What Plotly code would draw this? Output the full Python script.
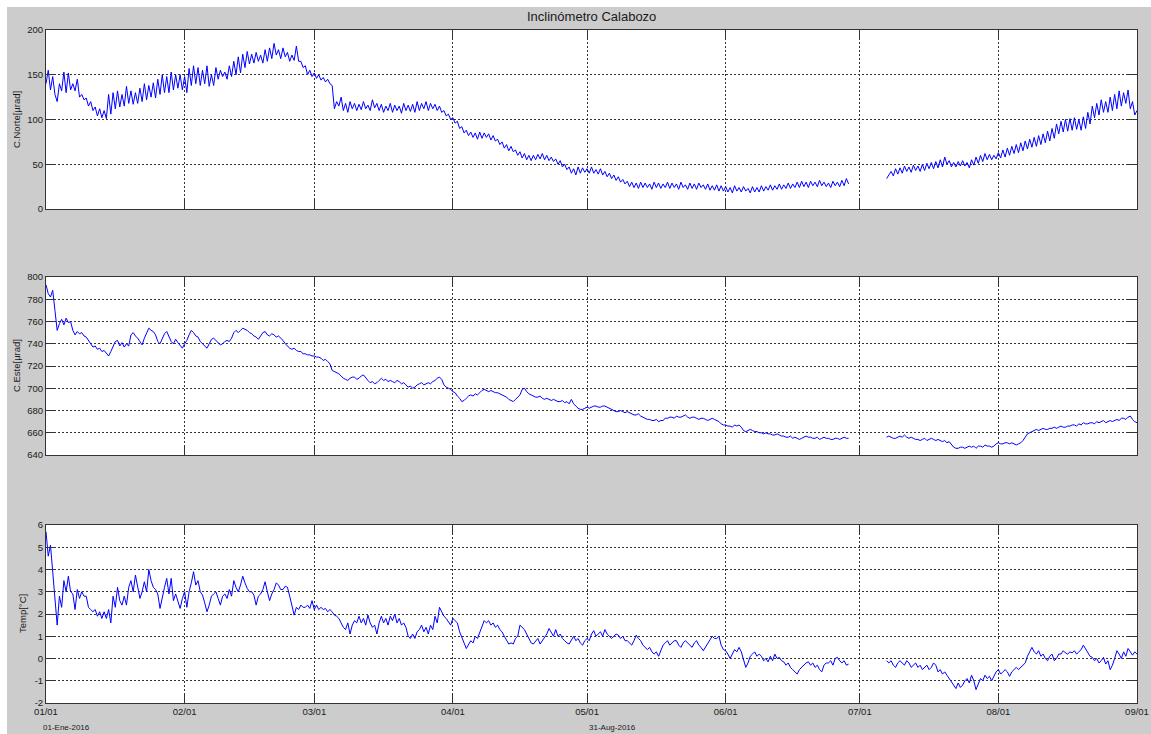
import pandas as pd
import plotly.graph_objects as go
from plotly.subplots import make_subplots

# ---------------- DATA (readings every 12 h) ----------------
start_1 = "2016-01-01 00:00"   # first segment start
start_2 = "2016-07-07 00:00"   # second segment start (after data gap)

norte_1 = [
 140,155, 133,148, 128,120, 140,132, 153,130, 152,133, 140,132, 145,125, 128,122, 124,115,
 120,110, 114,104, 112,102, 110,101, 128,106, 130,112, 132,114, 128,115, 137,118, 132,117,
 130,118, 135,120, 140,122, 138,125, 141,124, 145,128, 150,130, 148,130, 153,133, 150,135,
 150,133, 148,130, 157,138, 160,140, 158,138, 155,140, 160,137, 150,138, 158,145, 155,148,
 153,145, 160,148, 165,150, 170,152, 173,158, 176,162, 173,163, 175,165, 172,163, 178,165,
 180,168, 185,172, 178,168, 180,170, 175,165, 172,166, 182,165, 165,158, 160,150, 155,148,
 152,146, 150,144, 147,142, 145,140, 138,112, 120,115, 125,110, 118,108, 120,112, 118,110,
 117,111, 120,112, 116,110, 122,113, 118,110, 117,108, 115,110, 118,108, 116,110, 115,107,
 118,110, 116,109, 117,108, 120,110, 118,112, 120,110, 118,112, 117,110, 115,108, 110,104,
 106,100, 102,96, 98,90, 92,85, 88,82, 86,80, 85,78, 86,79, 85,80, 84,77,
 82,76, 78,72, 75,68, 72,65, 70,64, 66,60, 64,57, 62,55, 60,54, 60,55,
 61,56, 62,55, 60,54, 58,53, 56,50, 54,47, 50,44, 47,40, 45,38, 47,40,
 46,41, 45,40, 47,40, 44,39, 45,38, 42,36, 40,34, 38,32, 36,30, 33,28,
 31,25, 30,24, 29,23, 30,24, 29,24, 28,22, 30,24, 29,23, 28,24, 30,23,
 29,24, 28,22, 30,24, 27,22, 29,23, 28,22, 29,24, 27,22, 28,21, 26,21,
 27,20, 26,20, 25,19, 24,18, 26,20, 24,19, 25,20, 23,18, 25,19, 24,19,
 26,20, 25,21, 27,21, 26,22, 28,22, 27,23, 29,23, 28,24, 30,24, 31,25,
 30,24, 31,26, 30,25, 32,26, 30,25, 29,24, 31,26, 30,25, 32,26, 34,28,
]
norte_2 = [
 34,38, 42,37, 45,39, 46,40, 48,42, 47,41, 49,43, 48,42, 50,43, 51,45,
 52,45, 53,46, 55,47, 58,50, 54,47, 52,47, 53,48, 54,48, 52,46, 55,49,
 58,51, 60,53, 62,55, 61,55, 60,56, 63,57, 66,58, 68,60, 70,62, 72,63,
 74,65, 76,67, 78,69, 80,70, 82,72, 84,74, 87,76, 90,79, 95,84, 98,86,
 100,87, 101,88, 102,89, 100,88, 103,90, 108,95, 115,102, 118,105, 122,108, 120,108,
 125,110, 128,112, 132,115, 130,118, 133,112, 120,105,
 110,
]

este_1 = [
 793,785, 782,788, 770,752, 758,762, 757,763, 759,760, 752,748, 751,749, 750,747, 746,743,
 740,737, 738,735, 736,733, 734,731, 729,733, 738,742, 743,738, 741,737, 740,738, 748,750,
 747,745, 742,739, 745,750, 754,752, 751,748, 742,740, 745,749, 751,746, 742,740, 744,741,
 738,736, 740,743, 748,752, 750,747, 746,742, 740,738, 736,740, 744,745, 743,741, 739,740,
 742,743, 742,745, 750,752, 750,752, 754,753, 752,750, 749,747, 746,744, 747,750, 751,748,
 747,749, 748,746, 747,745, 743,740, 738,736, 735,736, 734,733, 733,731, 731,730, 730,729,
 729,728, 728,727, 725,726, 724,722, 716,715, 714,713, 711,709, 708,707, 709,710, 710,708,
 709,711, 712,709, 707,705, 706,704, 705,707, 709,707, 708,706, 707,706, 705,707, 706,704,
 705,703, 701,702, 700,701, 703,704, 705,703, 704,705, 704,706, 707,709, 710,708, 703,701,
 700,699, 697,696, 693,691, 688,689, 691,693, 694,693, 695,694, 696,698, 699,698, 697,698,
 697,696, 696,695, 694,693, 692,690, 689,688, 690,692, 694,699, 700,697, 695,694, 693,692,
 692,693, 691,690, 691,690, 689,690, 689,688, 688,689, 687,688, 686,690, 686,684, 682,681,
 681,682, 683,682, 683,684, 684,683, 683,684, 684,683, 682,681, 680,679, 679,680, 679,678,
 679,678, 677,676, 676,677, 675,674, 673,672, 672,671, 671,672, 670,671, 671,673, 673,674,
 674,673, 675,674, 674,675, 676,674, 673,674, 674,673, 672,673, 673,672, 671,672, 673,672,
 671,670, 668,667, 667,666, 666,665, 667,666, 667,665, 662,661, 662,663, 662,661, 661,660,
 660,659, 660,659, 659,658, 658,659, 658,657, 657,656, 656,657, 655,656, 655,654, 655,656,
 657,656, 656,655, 655,656, 654,655, 656,655, 655,654, 654,655, 655,654, 655,656, 655,655,
]
este_2 = [
 656,657, 656,655, 655,656, 657,656, 658,656, 655,656, 655,654, 654,653, 654,655, 653,654,
 655,654, 653,654, 653,652, 653,651, 652,649, 647,646, 646,647, 647,646, 647,648, 647,648,
 646,648, 648,647, 649,648, 648,647, 648,650, 651,650, 650,651, 651,650, 651,650, 649,650,
 651,653, 656,659, 660,661, 662,663, 662,663, 664,663, 663,664, 664,665, 664,665, 666,665,
 665,666, 666,667, 667,666, 668,667, 669,668, 668,669, 669,668, 670,669, 670,671, 669,670,
 671,670, 671,672, 671,673, 673,672, 674,675, 672,670,
 669,
]

temp_1 = [
 5.7,4.6, 5.1,4.0, 2.6,1.5, 2.8,2.3, 3.5,3.0, 3.7,3.0, 2.9,2.2, 3.1,2.7, 3.0,2.8, 2.8,2.3,
 2.2,2.1, 2.2,1.9, 2.1,1.8, 2.1,1.8, 2.2,1.6, 2.8,2.3, 3.2,2.6, 2.4,2.8, 2.4,3.2, 3.5,3.0,
 3.75,3.2, 2.7,3.0, 3.45,3.0, 4.0,3.5, 3.2,3.1, 2.9,2.25, 2.8,3.2, 3.6,2.9, 3.6,2.6, 2.9,2.6,
 2.25,2.7, 3.0,2.3, 3.0,3.4, 3.9,3.3, 3.5,3.0, 2.85,2.5, 2.1,2.4, 2.8,2.9, 3.0,2.7, 2.4,2.8,
 2.9,2.7, 3.1,2.8, 3.5,3.2, 3.0,3.3, 3.7,3.4, 3.15,3.0, 3.0,2.85, 2.4,2.8, 2.9,3.1, 3.45,3.0,
 2.6,2.9, 3.1,3.4, 3.3,3.1, 3.1,3.25, 3.2,2.8, 2.3,1.95, 2.3,2.2, 2.4,2.3, 2.3,2.4, 2.25,2.6,
 2.2,2.4, 2.2,2.3, 2.2,2.25, 2.1,2.2, 2.1,1.95, 1.9,1.8, 1.6,1.4, 1.3,1.6, 1.1,1.5, 1.7,1.6,
 1.9,1.6, 1.8,1.5, 1.95,1.6, 1.4,1.5, 1.1,1.6, 1.9,1.6, 1.8,1.5, 1.9,1.7, 2.0,1.6, 1.8,1.5,
 1.6,1.4, 1.0,0.9, 1.1,0.9, 1.2,1.3, 1.5,1.2, 1.4,1.1, 1.5,1.3, 1.9,1.6, 2.3,2.1, 1.9,1.8,
 1.65,1.5, 1.8,1.7, 1.6,1.2, 0.9,0.7, 0.45,0.6, 0.8,0.7, 1.0,0.9, 1.2,1.4, 1.7,1.6, 1.7,1.5,
 1.6,1.4, 1.5,1.3, 1.2,1.0, 0.8,0.65, 0.7,0.65, 0.9,1.0, 1.5,1.4, 1.3,1.1, 0.9,0.7, 0.65,0.8,
 0.9,0.65, 0.8,1.0, 1.1,1.35, 1.2,1.0, 1.3,1.0, 1.1,0.9, 0.8,0.7, 0.65,0.8, 1.0,0.8, 0.9,0.7,
 0.6,0.8, 0.9,0.8, 1.1,1.25, 1.0,1.1, 1.2,1.0, 1.3,1.1, 1.0,0.9, 1.0,1.1, 1.05,0.9, 1.0,0.8,
 0.8,0.7, 0.6,0.8, 1.05,0.9, 0.8,0.6, 0.5,0.4, 0.5,0.3, 0.2,0.3, 0.1,0.4, 0.6,0.7, 0.8,0.6,
 0.7,0.8, 0.8,0.6, 0.5,0.7, 0.8,0.7, 0.6,0.5, 0.7,0.8, 0.6,0.5, 0.35,0.5, 0.7,0.8, 1.0,0.9,
 0.9,1.0, 0.6,0.4, 0.35,0.2, 0.0,0.2, 0.4,0.3, 0.5,0.3, 0.0,-0.4, -0.2,0.1, 0.2,0.3, 0.1,0.2,
 0.1,-0.1, 0.0,-0.15, 0.1,-0.1, 0.2,0.0, 0.05,-0.1, -0.15,-0.3, -0.2,-0.4, -0.5,-0.6, -0.7,-0.5, -0.4,-0.3,
 -0.2,-0.15, -0.3,-0.2, -0.4,-0.3, -0.5,-0.6, -0.3,-0.2, -0.2,-0.1, -0.3,0.0, 0.05,-0.1, -0.2,-0.1, -0.3,-0.25,
]
temp_2 = [
 -0.1,-0.2, -0.1,-0.3, -0.4,-0.2, -0.1,-0.2, -0.3,-0.1, -0.2,-0.4, -0.3,-0.2, -0.4,-0.3, -0.5,-0.4, -0.3,-0.5,
 -0.4,-0.2, -0.3,-0.6, -0.5,-0.7, -0.6,-0.75, -0.9,-1.1, -1.2,-1.35, -1.1,-1.3, -1.2,-1.0, -0.9,-1.1, -0.75,-1.0,
 -1.4,-1.1, -0.9,-1.0, -0.75,-0.9, -0.8,-1.0, -0.8,-0.6, -0.5,-0.7, -0.6,-0.5, -0.6,-0.8, -0.6,-0.5, -0.4,-0.5,
 -0.4,-0.3, -0.2,0.1, 0.3,0.5, 0.3,0.2, 0.35,0.1, 0.2,0.0, -0.1,0.1, 0.2,-0.1, 0.0,0.2, 0.2,0.35,
 0.25,0.2, 0.3,0.25, 0.35,0.2, 0.3,0.4, 0.6,0.45, 0.3,0.1, 0.05,-0.1, 0.0,-0.2, -0.1,0.05, -0.25,-0.1,
 -0.5,-0.3, 0.0,0.35, 0.2,0.0, 0.3,0.1, 0.45,0.3, 0.15,0.3,
 0.2,
]

month_ticks = ["2016-01-01", "2016-02-01", "2016-03-01", "2016-04-01", "2016-05-01",
               "2016-06-01", "2016-07-01", "2016-08-01", "2016-09-01"]
month_labels = ["01/01", "02/01", "03/01", "04/01", "05/01", "06/01", "07/01", "08/01", "09/01"]

norte_ticks = [0, 50, 100, 150, 200]
este_ticks = [640, 660, 680, 700, 720, 740, 760, 780, 800]
temp_ticks = [-2, -1, 0, 1, 2, 3, 4, 5, 6]

title_text = "Inclinómetro Calabozo"
ylabels = ["C.Norte[µrad]", "C.Este[µrad]", "Temp[°C]"]
start_label = "01-Ene-2016"
end_label = "31-Aug-2016"

# ---------------- FIGURE ----------------
W, H = 1151, 734
def px_x(x):          # window pixel -> paper fraction
    return x / W
def px_y(y):
    return 1 - y / H

def build(seg1, seg2):
    t1 = pd.date_range(start_1, periods=len(seg1), freq="12h")
    t2 = pd.date_range(start_2, periods=len(seg2), freq="12h")
    xs = list(t1) + [None] + list(t2)
    ys = list(seg1) + [None] + list(seg2)
    return xs, ys

fig = make_subplots(rows=3, cols=1)
for i, (s1, s2) in enumerate([(norte_1, norte_2), (este_1, este_2), (temp_1, temp_2)]):
    xs, ys = build(s1, s2)
    fig.add_trace(go.Scatter(x=xs, y=ys, mode="lines",
                             line=dict(color="#0000ff", width=1),
                             connectgaps=False, showlegend=False,
                             hoverinfo="skip"), row=i + 1, col=1)

axcol = "#333333"
tickfont = dict(family="Liberation Sans, Arial, sans-serif", size=9.5, color="#1a1a1a")
xdom = [px_x(46), px_x(1137)]
ydoms = [[px_y(209), px_y(30)], [px_y(455), px_y(277)], [px_y(703), px_y(525)]]
yranges = [[0, 200], [640, 800], [-2, 6]]
yticks = [norte_ticks, este_ticks, temp_ticks]

for i in range(3):
    xa = "xaxis" if i == 0 else f"xaxis{i+1}"
    ya = "yaxis" if i == 0 else f"yaxis{i+1}"
    fig.layout[xa].update(
        domain=xdom, type="date", range=[month_ticks[0], month_ticks[-1]],
        tickmode="array", tickvals=month_ticks, ticktext=month_labels,
        showticklabels=(i == 2), tickfont=tickfont, automargin=False,
        ticks="inside", ticklen=9, tickcolor=axcol, tickwidth=1,
        showline=True, linecolor=axcol, linewidth=1, mirror="ticks",
        showgrid=True, gridcolor=axcol, gridwidth=1, griddash="2px,2px",
        zeroline=False, fixedrange=True,
    )
    fig.layout[ya].update(
        domain=ydoms[i], range=yranges[i], automargin=False,
        tickmode="array", tickvals=yticks[i], ticktext=[str(v) for v in yticks[i]],
        tickfont=tickfont,
        ticks="inside", ticklen=9, tickcolor=axcol, tickwidth=1,
        showline=True, linecolor=axcol, linewidth=1, mirror="ticks",
        showgrid=True, gridcolor=axcol, gridwidth=1, griddash="2px,2px",
        zeroline=False, fixedrange=True,
    )

annots = [
    dict(text=title_text, x=px_x(591), y=px_y(17), font=dict(size=13)),
    dict(text=ylabels[0], x=px_x(17), y=px_y(120), textangle=-90, font=dict(size=9.5)),
    dict(text=ylabels[1], x=px_x(17), y=px_y(366), textangle=-90, font=dict(size=9.5)),
    dict(text=ylabels[2], x=px_x(22), y=px_y(614), textangle=-90, font=dict(size=9.5)),
    dict(text=start_label, x=px_x(66), y=px_y(727), font=dict(size=8)),
    dict(text=end_label, x=px_x(612), y=px_y(727), font=dict(size=8)),
]
for a in annots:
    a.update(xref="paper", yref="paper", showarrow=False, xanchor="center", yanchor="middle")
    a["font"].update(family="Liberation Sans, Arial, sans-serif", color="#1a1a1a")

fig.update_layout(
    width=W, height=H, autosize=False,
    margin=dict(l=0, r=0, t=0, b=0, pad=0, autoexpand=False),
    paper_bgcolor="#cccccc", plot_bgcolor="#ffffff",
    annotations=annots,
    shapes=[
        dict(type="rect", xref="paper", yref="paper", x0=0, x1=px_x(7), y0=0, y1=1,
             fillcolor="#ffffff", line=dict(width=0), layer="below"),
        dict(type="rect", xref="paper", yref="paper", x0=0, x1=1, y0=px_y(7), y1=1,
             fillcolor="#ffffff", line=dict(width=0), layer="below"),
    ],
    showlegend=False,
)

fig.write_html(
    "out.html", config={"displayModeBar": False},
    post_script=("document.documentElement.style.overflow='hidden';"
                 "document.body.style.overflow='hidden';"
                 "document.body.style.margin='0';"),
)
